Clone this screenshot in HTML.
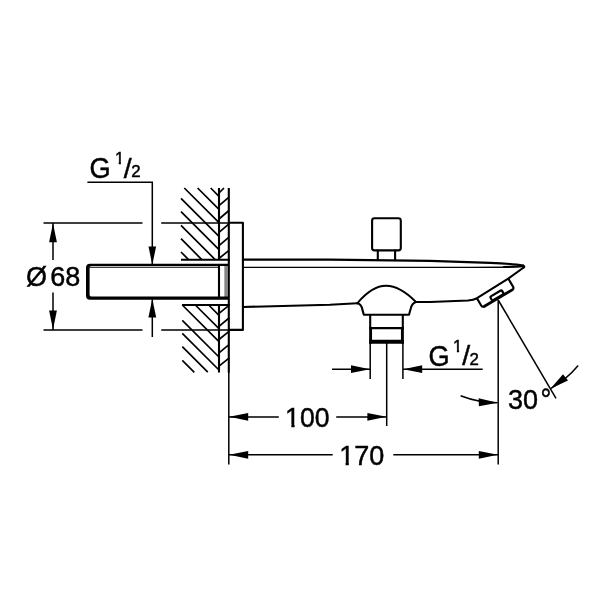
<!DOCTYPE html>
<html lang="en">
<head>
<meta charset="utf-8">
<title>Dimensional drawing</title>
<style>
html,body{margin:0;padding:0;background:#fff;}
body{width:600px;height:600px;overflow:hidden;}
svg{display:block;will-change:transform;}
text{font-family:"Liberation Sans",Arial,Helvetica,sans-serif;fill:#000;stroke:#000;stroke-width:0.45;}
.t{stroke:#000;stroke-width:1.5;fill:none;}
.m{stroke:#000;stroke-width:2.1;fill:none;stroke-linecap:round;stroke-linejoin:round;}
.b{stroke:#000;stroke-width:2.1;fill:none;}
.h{stroke:#000;stroke-width:1.7;fill:none;}
.k{stroke:#000;stroke-width:3;fill:none;}
.a{fill:#000;stroke:none;}
</style>
</head>
<body>
<svg width="600" height="600" viewBox="0 0 600 600">
<rect width="600" height="600" fill="#fff"/>
<defs>
<clipPath id="c1"><rect x="-5" y="-32" width="70" height="29.3"/><rect x="6.4" y="-3" width="3.2" height="5"/><rect x="15.2" y="-32" width="50" height="36"/></clipPath>
<clipPath id="c2"><rect x="-3" y="-20" width="16" height="17.7"/><rect x="3.8" y="-2.5" width="2.2" height="4.5"/></clipPath>
</defs>

<!-- wall hatch -->
<g class="h">
<path d="M210.7 188L219 196.3M197.6 188L219 209.4M184.3 188L219 222.7M181 198.3L219 236.3M181 211.7L219 249.7M181 225.4L215.4 259.8M181 238.7L202 259.8M181 252L188.8 259.8"/>
<path d="M219 193L224 188M219 205.7L229 197.2M219 219L229 210.5M219 232.3L229 223.8M219 245.7L229 237.2M219 258.5L229 250.3"/>
<path d="M208.7 305L219 315.3M195.3 305L219 328.7M182.3 305L219 341.7M182.3 320.3L219 357M182.3 333.3L219 370M182.3 346.7L207.8 372.2M182.3 360.3L194.3 372.3"/>
<path d="M219 313.3L229 305.3M219 326.3L229 318M219 339.5L229 331.3M219 352.8L229 344.7M219 366.2L229 358.2"/>
</g>

<!-- wall lines -->
<path class="b" d="M219 188V260M219 264V299M219 304.5V372.6"/>
<path class="b" d="M228.8 188V372.6"/>
<path class="t" d="M228.8 372V464.6"/>
<path class="b" d="M181 259.8H229.8M182 305H229.8"/>

<!-- inlet pipe -->
<path class="a" fill-rule="evenodd" d="M228 263.8H90Q86 263.8 86 267.8V295.8Q86 299.8 90 299.8H228ZM228 265.9H91.2Q89.6 265.9 89.6 267.5V294.8Q89.6 296.4 91.2 296.4H228Z"/>
<path class="t" d="M89.5 267.2H219" style="stroke-width:1.1"/>
<path class="t" d="M225.1 266V297.5M226.9 266V297.5" style="stroke-width:0.8"/>

<!-- flange -->
<path class="m" d="M229 222.8H242.9V329.9H229"/>

<!-- spout -->
<path class="m" d="M243 259.6H330L430 260.9L490 262.8Q514 263.8 523 265.6" style="stroke-width:2.2"/>
<path class="t" d="M243 267.3H470Q500 267.3 506 267" style="stroke-width:1.3"/>
<path class="m" d="M504 267Q516 266.9 523 266.2"/>
<path class="m" d="M523 265.6Q525.6 266.6 523 268L508.2 278.6L477 298.2Q473.6 300 468 300.5L430 302L416 302"/>
<path class="m" d="M243 307L330 304.7L357.2 303.3"/>
<!-- dome -->
<path class="m" d="M357.2 303.3Q372 285.7 386 285.7Q400 285.7 416 302" style="stroke-width:1.9"/>
<path class="m" d="M357.2 303.3Q361.4 304.2 362.4 309.6L363.8 314.7H409L410.6 309Q412 303 416 302"/>
<!-- outlet -->
<path class="b" d="M370.2 314.8V329M402.8 314.8V329"/>
<path class="b" d="M370.6 328V343.5M402.4 328V343.5" style="stroke-width:2.9"/>
<path class="b" d="M369.3 328.2H403.8" style="stroke-width:2.3"/>
<path class="k" d="M369.2 341.8H403.8" style="stroke-width:4"/>
<path class="t" d="M370.2 342V379M402.9 342V379M386.7 342V426"/>

<!-- knob -->
<rect class="m" x="372.1" y="218.3" width="28.7" height="32.1" rx="2.4" ry="2.4"/>
<path class="m" d="M377.8 250.6V259.6M395.1 250.6V259.6"/>

<!-- aerator -->
<g transform="translate(477 298.4) rotate(-30.6)">
<path class="m" d="M0 0V8.2Q0 10.6 2.4 10.6" />
<path class="m" d="M37 0V8.2Q37 10.6 34.6 10.6" />
<path class="m" d="M2.4 10.6H34.6" style="stroke-width:2.8"/>
<rect class="m" x="12" y="5.3" width="13.4" height="4.6" rx="1" ry="1" style="stroke-width:2.2"/>
</g>

<!-- angle lines -->
<path class="t" d="M498.2 300V464.6"/>
<path class="t" d="M498.2 300L556 398.4"/>

<!-- dimension: top G1/2 -->
<path class="t" d="M87.4 182.2H152.3V264"/>
<path class="a" d="M152.3 264.8L148.5 246.6H156.1Z"/>
<path class="t" d="M152.3 299.5V337"/>
<path class="a" d="M152.3 298.8L148.4 317.6H156.2Z"/>

<!-- dimension: Ø68 -->
<path class="t" d="M43.5 223H142.5M161.2 223H229M43.5 330H142.5M161.2 330H229"/>
<path class="t" d="M53 223V260M53 292.5V330"/>
<path class="a" d="M53 223.2L49.1 242.2H56.9Z"/>
<path class="a" d="M53 329.6L49.1 310.6H56.9Z"/>

<!-- dimension: bottom G1/2 -->
<path class="t" d="M332 369.2H370M403 369.2H482.7"/>
<path class="a" d="M370 369.2L351 365.3V373.1Z"/>
<path class="a" d="M403.2 369.2L422.2 365.3V373.1Z"/>

<!-- dimension: 100 -->
<path class="t" d="M229 416.9H278.8M336.2 416.9H386.5"/>
<path class="a" d="M229.2 416.8L248.2 412.9V420.7Z"/>
<path class="a" d="M386.4 416.8L367.4 412.9V420.7Z"/>

<!-- dimension: 170 -->
<path class="t" d="M229 454.8H332.7M393.3 454.8H498"/>
<path class="a" d="M229.2 454.8L248.2 450.9V458.7Z"/>
<path class="a" d="M497.8 454.8L478.8 450.9V458.7Z"/>

<!-- dimension: 30deg -->
<path class="t" d="M460.6 395.8A102.8 102.8 0 0 0 497.5 402.8"/>
<path class="a" d="M497.8 402.8L478.6 398.2L478.9 406.2Z"/>
<path class="t" d="M578.2 365.5A103.2 103.2 0 0 1 551 388.4"/>
<path class="a" d="M550.4 388.8L563 374.2L568 380.4Z"/>

<!-- text -->
<g font-size="27">
<text transform="translate(26 286.3) scale(1 1.04)">Ø</text>
<text transform="translate(50.2 286.3) scale(1 1.04)">68</text>
<text transform="translate(89.4 177.8) scale(0.97 1.08)" font-size="28">G</text>
<text transform="translate(114.9 164.4) scale(1 1.03)" font-size="16.5" clip-path="url(#c2)">1</text>
<text transform="translate(123.8 177.6) scale(1.05 1)">/</text>
<text transform="translate(131.2 177.3) scale(1.05 1)" font-size="16">2</text>
<text transform="translate(428.6 365.5) scale(0.97 1.08)" font-size="28">G</text>
<text transform="translate(453.1 352.1) scale(1 1.03)" font-size="16.5" clip-path="url(#c2)">1</text>
<text transform="translate(462.2 365.2) scale(1.05 1)">/</text>
<text transform="translate(469.4 365) scale(1.05 1)" font-size="16">2</text>
<text transform="translate(285.1 426.9) scale(0.985 1.04)" clip-path="url(#c1)">100</text>
<text transform="translate(339.2 464.7) scale(1 1.04)" clip-path="url(#c1)">170</text>
<text transform="translate(507.9 408.7) scale(1 1.04)">30</text>
<text transform="translate(540.6 409.2) scale(1 1.06)">°</text>
</g>
</svg>
</body>
</html>
